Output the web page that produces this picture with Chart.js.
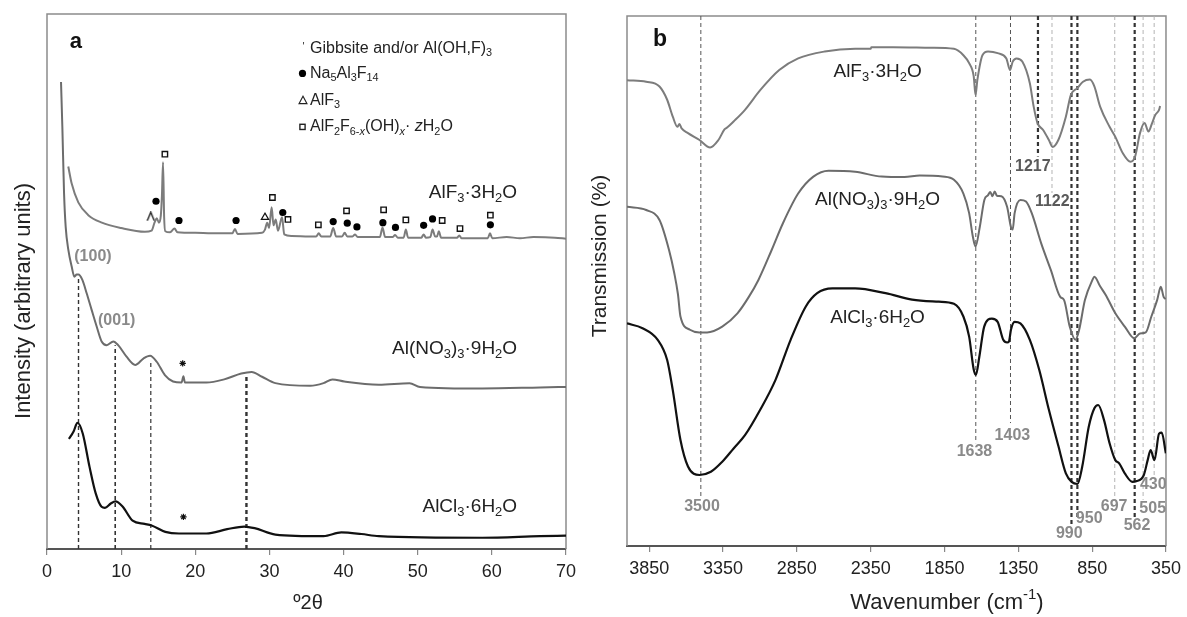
<!DOCTYPE html>
<html>
<head>
<meta charset="utf-8">
<script src="https://cdn.jsdelivr.net/npm/chart.js@4.4.1/dist/chart.umd.min.js"></script>
<style>
  html, body { margin: 0; padding: 0; background: #fff; }
  #wrap { position: relative; width: 1187px; height: 617px; overflow: hidden; }
  canvas { position: absolute; top: 0; }
  #xrd { left: 0; }
  #ftir { left: 575px; }
</style>
</head>
<body>
<div id="wrap">
  <canvas id="xrd" width="590" height="617"></canvas>
  <canvas id="ftir" width="612" height="617"></canvas>
</div>
<script>
// ---- panel a : XRD (degrees 2theta, intensity in arbitrary units 0-100) ----
const xrdTicks = [0, 10, 20, 30, 40, 50, 60, 70];

const thetaAlF3 = [2.87, 3.33, 4.22, 5.57, 7.4, 10.0, 13.2, 14.1, 14.5, 14.8, 15.1, 15.35, 15.5, 15.65, 15.8, 15.95, 16.6, 17.2, 17.6, 20.0, 22.2, 25.0, 25.35, 25.7, 29.0, 29.4, 29.7, 29.95, 30.3, 30.55, 30.85, 31.15, 31.7, 32.0, 33.0, 36.3, 36.65, 37.0, 38.2, 38.6, 39.0, 39.8, 40.15, 40.5, 41.2, 41.55, 41.9, 44.9, 45.25, 45.6, 46.6, 46.95, 47.3, 48.1, 48.4, 48.7, 50.5, 50.8, 51.1, 51.7, 52.0, 52.35, 52.6, 52.85, 53.15, 55.3, 55.6, 55.9, 59.45, 59.75, 60.05, 62.0, 63.8, 65.6, 68.5, 70];
const intAlF3 = [71.5, 68.3, 64.8, 62.4, 61.0, 60.0, 59.3, 59.5, 61.0, 61.8, 61.0, 62.3, 66.0, 72.3, 62.0, 59.4, 59.2, 59.9, 59.2, 59.1, 59.0, 59.0, 59.8, 58.9, 59.1, 59.7, 61.0, 60.0, 63.9, 60.5, 61.6, 59.5, 62.0, 58.8, 58.5, 58.4, 59.0, 58.4, 58.4, 60.0, 58.4, 58.4, 59.1, 58.4, 58.4, 58.8, 58.3, 58.3, 60.1, 58.3, 58.3, 58.7, 58.2, 58.2, 59.7, 58.2, 58.2, 58.8, 58.2, 58.3, 59.7, 58.4, 58.4, 59.4, 58.2, 58.2, 58.6, 58.1, 58.1, 59.0, 58.1, 58.3, 58.1, 58.3, 58.2, 58.0];

const thetaAlNO3 = [1.89, 2.07, 2.3, 2.52, 2.88, 3.33, 3.69, 4.0, 4.23, 4.77, 5.35, 6.02, 6.7, 7.37, 8.05, 8.95, 9.6, 10.7, 11.9, 13.0, 13.9, 14.8, 15.9, 17.0, 18.15, 18.4, 18.6, 21.5, 23.9, 26.2, 27.6, 29.0, 30.8, 35.5, 37.3, 38.5, 40.1, 44.75, 48.9, 50.3, 58.7, 66.5, 70];
const intAlNO3 = [87.3, 78.9, 66.5, 60.2, 55.9, 52.8, 50.9, 51.3, 51.3, 50.3, 47.8, 44.7, 41.6, 38.8, 38.1, 38.8, 38.1, 36.0, 34.4, 35.6, 36.1, 35.0, 32.5, 31.3, 31.1, 32.3, 31.1, 31.1, 31.7, 32.8, 33.1, 32.2, 31.0, 30.5, 31.0, 31.7, 31.3, 30.7, 31.0, 30.3, 30.0, 30.2, 30.3];

const thetaAlCl3 = [2.95, 3.3, 3.6, 4.1, 4.82, 5.73, 6.57, 7.36, 7.82, 8.6, 9.23, 10.16, 11.55, 13.16, 14.1, 15.96, 17.8, 21.5, 24.3, 26.6, 28.0, 30.8, 37.3, 39.7, 42.4, 44.75, 58.7, 66.5, 70];
const intAlCl3 = [20.6, 21.3, 22.0, 23.6, 21.6, 15.4, 10.4, 7.9, 7.7, 8.5, 8.9, 8.0, 5.3, 4.7, 4.4, 3.2, 2.9, 2.9, 3.7, 4.2, 3.9, 2.7, 2.4, 3.1, 2.8, 2.4, 2.1, 2.4, 2.5];

// phase markers
const naTheta = [14.7, 17.8, 25.5, 31.8, 38.6, 40.5, 41.8, 45.3, 47.0, 50.8, 52.0, 59.8];
const naInt = [65.0, 61.4, 61.4, 62.9, 61.2, 60.9, 60.2, 61.0, 60.1, 60.5, 61.7, 60.6];
const hydTheta = [15.9, 30.4, 32.5, 36.6, 40.4, 45.4, 48.4, 53.3, 55.7, 59.8];
const hydInt = [73.8, 65.7, 61.6, 60.6, 63.2, 63.4, 61.5, 61.4, 59.9, 62.4];
const alf3Theta = [29.4];
const alf3Int = [62.0];
const gibTheta = [14.0];
const gibInt = [62.2];
const starTheta = [18.3, 18.4];
const starInt = [34.7, 6.0];

// reflections marked with dashed lines
const xrdDashTheta = [4.25, 9.2, 14.0, 26.9];
const xrdDashTop = [50.5, 38.1, 35.3, 32.5];

// ---- panel b : FTIR (wavenumber cm-1, transmission %) ----
const ftirTicks = [3850, 3350, 2850, 2350, 1850, 1350, 850, 350];

const wnAlF3 = [4000, 3870, 3780, 3728, 3690, 3659, 3645, 3630, 3587, 3509, 3437, 3381, 3340, 3320, 3278, 3201, 3098, 2969, 2841, 2661, 2455, 2350, 2345, 2198, 1941, 1786, 1722, 1683, 1652, 1640, 1627, 1593, 1555, 1490, 1431, 1406, 1388, 1362, 1323, 1272, 1246, 1220, 1182, 1143, 1118, 1079, 1028, 994, 950, 912, 865, 835, 796, 732, 693, 642, 590, 559, 526, 495, 469, 444, 423, 397, 390];
const trAlF3 = [87.9, 87.6, 86.7, 84.2, 81.0, 79.1, 79.6, 78.8, 77.9, 76.6, 75.2, 76.6, 78.6, 79.0, 80.1, 82.3, 86.0, 89.8, 92.0, 93.3, 93.8, 93.8, 94.1, 94.1, 94.0, 93.8, 92.6, 91.1, 88.6, 85.1, 88.0, 92.6, 93.3, 93.0, 92.0, 89.8, 91.4, 92.0, 91.4, 87.3, 82.9, 79.8, 78.5, 76.6, 75.3, 76.6, 81.0, 85.1, 86.4, 87.6, 88.0, 86.7, 82.9, 79.1, 77.2, 74.1, 72.5, 73.5, 77.9, 79.8, 78.2, 79.8, 81.3, 82.3, 83.0];

const wnAlNO3 = [4000, 3870, 3780, 3715, 3680, 3655, 3638, 3574, 3510, 3458, 3355, 3252, 3175, 3110, 3021, 2944, 2841, 2738, 2635, 2455, 2275, 2121, 2018, 1863, 1786, 1722, 1683, 1658, 1640, 1611, 1580, 1555, 1540, 1525, 1510, 1495, 1465, 1426, 1400, 1388, 1375, 1336, 1298, 1259, 1195, 1130, 1066, 1040, 1002, 963, 938, 899, 848, 835, 796, 757, 693, 629, 565, 526, 487, 449, 410, 385, 366, 351];
const trAlNO3 = [64.0, 63.4, 61.5, 55.8, 51.5, 47.5, 43.3, 40.8, 40.3, 40.3, 41.4, 43.9, 47.0, 50.2, 55.8, 60.9, 66.5, 69.7, 70.8, 70.6, 69.7, 69.6, 69.9, 69.7, 69.1, 66.5, 62.8, 58.4, 56.5, 60.2, 65.3, 66.2, 66.8, 66.0, 66.9, 66.1, 66.0, 64.0, 60.2, 59.7, 62.8, 65.3, 65.0, 62.8, 57.1, 52.1, 47.0, 46.4, 41.4, 38.9, 40.8, 46.4, 50.2, 50.8, 49.0, 47.3, 43.9, 41.4, 39.2, 40.1, 40.3, 43.3, 46.4, 48.9, 47.0, 46.6];

const wnAlCl3 = [4000, 3895, 3792, 3728, 3690, 3638, 3587, 3509, 3432, 3355, 3278, 3201, 3098, 2995, 2892, 2789, 2712, 2609, 2455, 2249, 2069, 1889, 1786, 1722, 1683, 1652, 1637, 1614, 1581, 1529, 1490, 1452, 1426, 1413, 1400, 1375, 1336, 1272, 1208, 1143, 1079, 1028, 989, 950, 917, 873, 835, 809, 770, 732, 693, 667, 629, 577, 552, 500, 474, 454, 428, 397, 379, 351];
const trAlCl3 = [42.0, 41.1, 38.9, 35.1, 29.4, 20.0, 15.0, 13.4, 14.0, 15.9, 18.4, 20.9, 25.7, 31.3, 38.9, 45.2, 47.7, 48.6, 48.6, 47.7, 46.5, 46.1, 45.7, 43.3, 39.5, 33.3, 32.3, 35.7, 41.4, 42.9, 42.3, 38.9, 38.4, 38.6, 40.8, 42.3, 42.0, 38.9, 33.2, 25.7, 18.9, 13.7, 12.1, 11.7, 15.0, 22.5, 26.0, 26.6, 23.8, 19.4, 16.2, 15.6, 13.7, 12.1, 12.2, 13.4, 16.2, 18.1, 16.2, 21.2, 21.4, 17.5];

// assigned bands: dashed line from the top of the frame down to bandEnd
const bandWn = [3500, 1638, 1403, 1217, 1122, 990, 950, 697, 562, 505, 430];
const bandEnd = [9.3, 19.4, 23.2, 73.5, 66.6, 3.6, 4.9, 9.3, 5.3, 8.7, 13.1];
const bandLabelWn = [3492, 1647, 1390, 1252, 1120, 1005, 870, 701, 546, 440, 436];
const bandLabelTr = [7.5, 17.8, 20.8, 71.6, 65.0, 2.4, 5.1, 7.4, 3.8, 7.1, 11.5];

// ---- styles ----
const FONT = '"Liberation Sans", Arial, Helvetica, sans-serif';
const xrdDashWidth = [1.4, 1.6, 1.2, 2.4];
const bandWeight = ['mid', 'mid', 'mid', 'bold', 'light', 'bold', 'bold', 'light', 'bold', 'light', 'light'];
const bandLine = {
  light: { color: '#b4b4b4', width: 1 },
  mid: { color: '#555', width: 1 },
  bold: { color: '#333', width: 2.2 }
};

function zip(xs, ys) {
  return xs.map((x, i) => ({ x, y: ys[i] }));
}

function trace(xs, ys, color, width) {
  return {
    data: zip(xs, ys), showLine: true, borderColor: color, borderWidth: width || 2,
    pointRadius: 0, cubicInterpolationMode: 'monotone', order: 2
  };
}

function dashed(x, y0, y1, color, width) {
  return {
    data: [{ x, y: y0 }, { x, y: y1 }], showLine: true, borderColor: color, borderWidth: width,
    borderDash: [4, 3], pointRadius: 0, order: 3
  };
}

// text with _{sub}, ^{sup} and ~italic~ parts
function richParts(str) {
  const out = [];
  const re = /_\{([^}]*)\}|\^\{([^}]*)\}|([^_^]+)/g;
  let m;
  while ((m = re.exec(str)) !== null) {
    const shift = m[1] !== undefined ? 1 : m[2] !== undefined ? -1 : 0;
    const txt = m[1] !== undefined ? m[1] : m[2] !== undefined ? m[2] : m[3];
    txt.split('~').forEach((piece, i) => {
      if (piece) out.push({ t: piece, shift, it: i % 2 === 1 });
    });
  }
  return out;
}

function drawRich(ctx, str, x, y, o) {
  const size = o.size || 16;
  const parts = richParts(str);
  const fontOf = p => (p.it ? 'italic ' : '') + (o.bold ? 'bold ' : '') + (p.shift ? size * 0.68 : size) + 'px ' + FONT;
  let w = 0;
  parts.forEach(p => { ctx.font = fontOf(p); p.w = ctx.measureText(p.t).width; w += p.w; });
  let cx = o.align === 'right' ? x - w : o.align === 'left' ? x : x - w / 2;
  ctx.fillStyle = o.color || '#222';
  ctx.textAlign = 'left';
  ctx.textBaseline = 'middle';
  parts.forEach(p => {
    ctx.font = fontOf(p);
    const dy = p.shift > 0 ? size * 0.3 : p.shift < 0 ? -size * 0.35 : 0;
    ctx.fillText(p.t, cx, y + dy);
    cx += p.w;
  });
}

function notesPlugin(cfg) {
  return {
    id: 'notes',
    beforeDatasetsDraw(chart) {
      const { ctx, chartArea: a } = chart;
      ctx.save();
      ctx.strokeStyle = '#8c8c8c';
      ctx.lineWidth = 1.5;
      ctx.beginPath();
      ctx.moveTo(a.left, a.bottom);
      ctx.lineTo(a.left, a.top);
      ctx.lineTo(a.right, a.top);
      ctx.lineTo(a.right, a.bottom);
      ctx.stroke();
      ctx.restore();
    },
    afterDatasetsDraw(chart) {
      const { ctx, scales } = chart;
      ctx.save();
      cfg.notes.forEach(n => drawRich(ctx, n.text, scales.x.getPixelForValue(n.x), scales.y.getPixelForValue(n.y), n));
      cfg.titles.forEach(t => {
        ctx.save();
        ctx.translate(t.px, t.py);
        if (t.rotate) ctx.rotate(-Math.PI / 2);
        drawRich(ctx, t.text, 0, 0, t);
        ctx.restore();
      });
      if (cfg.extra) cfg.extra(chart);
      ctx.restore();
    }
  };
}

// caret marker for gibbsite
const caret = document.createElement('canvas');
caret.width = 9;
caret.height = 10;
(function () {
  const c = caret.getContext('2d');
  c.strokeStyle = '#111';
  c.lineWidth = 1.3;
  c.beginPath();
  c.moveTo(1, 9.5);
  c.lineTo(4.5, 1);
  c.lineTo(8, 9.5);
  c.stroke();
})();

function xAxis(min, max, ticks, reverse, height) {
  return {
    type: 'linear', min, max, reverse,
    afterBuildTicks: s => { s.ticks = ticks.map(v => ({ value: v })); },
    ticks: {
      color: '#222', font: { family: FONT, size: 18 }, padding: 6, maxRotation: 0, autoSkip: false,
      callback: v => String(v)
    },
    grid: { drawOnChartArea: false, drawTicks: true, tickLength: 6, color: '#888', lineWidth: 1.2 },
    border: { display: true, color: '#555', width: 2 },
    afterFit: s => { s.height = height; }
  };
}

function yAxis(width) {
  return {
    type: 'linear', min: 0, max: 100,
    ticks: { display: false },
    grid: { display: false },
    border: { display: false },
    afterFit: s => { s.width = width; }
  };
}

// ---- chart a ----
const xrdSets = xrdDashTheta.map((t, i) => dashed(t, 0, xrdDashTop[i], '#333', xrdDashWidth[i]));
xrdSets.push(
  trace(thetaAlCl3, intAlCl3, '#111', 2.2),
  trace(thetaAlNO3, intAlNO3, '#6c6c6c', 2),
  trace(thetaAlF3, intAlF3, '#7c7c7c', 2),
  { data: zip(naTheta, naInt), pointStyle: 'circle', pointRadius: 3.6, backgroundColor: '#000', borderWidth: 0, order: 1 },
  { data: zip(hydTheta, hydInt), pointStyle: 'rect', pointRadius: 3.8, backgroundColor: '#fff', borderColor: '#111', borderWidth: 1.4, order: 1 },
  { data: zip(alf3Theta, alf3Int), pointStyle: 'triangle', pointRadius: 4.2, backgroundColor: '#fff', borderColor: '#111', borderWidth: 1.2, order: 1 },
  { data: zip(gibTheta, gibInt), pointStyle: caret, pointRadius: 4, order: 1 },
  { data: zip(starTheta, starInt), pointStyle: 'star', pointRadius: 3.2, borderColor: '#111', borderWidth: 1.2, order: 1 }
);

function xrdLegend(chart) {
  const { ctx, scales: { x, y } } = chart;
  const sx = x.getPixelForValue(34.46);
  const tx = x.getPixelForValue(35.47);
  const rows = [93.6, 88.9, 83.9, 78.9].map(v => y.getPixelForValue(v));
  const texts = ['Gibbsite and/or Al(OH,F)_{3}', 'Na_{5}Al_{3}F_{14}', 'AlF_{3}', 'AlF_{2}F_{6-~x~}(OH)_{~x~}· ~z~H_{2}O'];
  texts.forEach((t, i) => drawRich(ctx, t, tx, rows[i], { size: 16, align: 'left', color: '#222' }));
  ctx.fillStyle = '#333';
  ctx.font = '11px ' + FONT;
  ctx.textAlign = 'center';
  ctx.fillText("'", sx + 1, rows[0] - 1);
  ctx.fillStyle = '#000';
  ctx.beginPath();
  ctx.arc(sx, rows[1], 3.6, 0, Math.PI * 2);
  ctx.fill();
  ctx.strokeStyle = '#222';
  ctx.lineWidth = 1.1;
  ctx.beginPath();
  ctx.moveTo(sx - 3.5, rows[2] + 3.5);
  ctx.lineTo(sx + 0.5, rows[2] - 4);
  ctx.lineTo(sx + 4.5, rows[2] + 3.5);
  ctx.closePath();
  ctx.stroke();
  ctx.lineWidth = 1.4;
  ctx.strokeRect(sx - 2.6, rows[3] - 2.6, 5.2, 5.2);
}

new Chart(document.getElementById('xrd'), {
  type: 'scatter',
  data: { datasets: xrdSets },
  options: {
    responsive: false, animation: false, events: [],
    layout: { padding: { left: 0, right: 24, top: 14, bottom: 0 } },
    plugins: { legend: { display: false }, tooltip: { enabled: false } },
    scales: { x: xAxis(0, 70, xrdTicks, false, 68), y: yAxis(47) }
  },
  plugins: [notesPlugin({
    notes: [
      { text: 'a', x: 3.9, y: 94.8, size: 22, bold: true, color: '#111' },
      { text: 'AlF_{3}·3H_{2}O', x: 63.4, y: 66.5, size: 19, align: 'right' },
      { text: 'Al(NO_{3})_{3}·9H_{2}O', x: 63.4, y: 37.4, size: 19, align: 'right' },
      { text: 'AlCl_{3}·6H_{2}O', x: 63.4, y: 7.9, size: 19, align: 'right' },
      { text: '(100)', x: 6.2, y: 54.6, size: 16, bold: true, color: '#8a8a8a' },
      { text: '(001)', x: 9.4, y: 42.6, size: 16, bold: true, color: '#8a8a8a' }
    ],
    titles: [
      { text: 'º2θ', px: 308, py: 603, size: 20, color: '#222' },
      { text: 'Intensity (arbitrary units)', px: 24, py: 301, size: 22, rotate: true, color: '#222' }
    ],
    extra: xrdLegend
  })]
});

// ---- chart b ----
const ftirSets = bandWn.map((w, i) => {
  const st = bandLine[bandWeight[i]];
  return dashed(w, 100, bandEnd[i], st.color, st.width);
});
ftirSets.push(
  trace(wnAlCl3, trAlCl3, '#111', 2.2),
  trace(wnAlNO3, trAlNO3, '#6c6c6c', 2),
  trace(wnAlF3, trAlF3, '#7c7c7c', 2)
);

const ftirNotes = [
  { text: 'b', x: 3776, y: 95.5, size: 23, bold: true, color: '#111' },
  { text: 'AlF_{3}·3H_{2}O', x: 2303, y: 89.4, size: 19 },
  { text: 'Al(NO_{3})_{3}·9H_{2}O', x: 2303, y: 65.3, size: 19 },
  { text: 'AlCl_{3}·6H_{2}O', x: 2303, y: 43.0, size: 19 }
];
bandWn.forEach((w, i) => {
  ftirNotes.push({
    text: String(w), x: bandLabelWn[i], y: bandLabelTr[i], size: 16, bold: true,
    color: (w === 1217 || w === 1122) ? '#5a5a5a' : '#8a8a8a'
  });
});

new Chart(document.getElementById('ftir'), {
  type: 'scatter',
  data: { datasets: ftirSets },
  options: {
    responsive: false, animation: false, events: [],
    layout: { padding: { left: 0, right: 19, top: 16, bottom: 0 } },
    plugins: { legend: { display: false }, tooltip: { enabled: false } },
    scales: { x: xAxis(350, 4000, ftirTicks, true, 71), y: yAxis(52) }
  },
  plugins: [notesPlugin({
    notes: ftirNotes,
    titles: [
      { text: 'Wavenumber (cm^{-1})', px: 372, py: 603, size: 22, color: '#222' },
      { text: 'Transmission (%)', px: 25, py: 256, size: 21, rotate: true, color: '#222' }
    ]
  })]
});
</script>
</body>
</html>
